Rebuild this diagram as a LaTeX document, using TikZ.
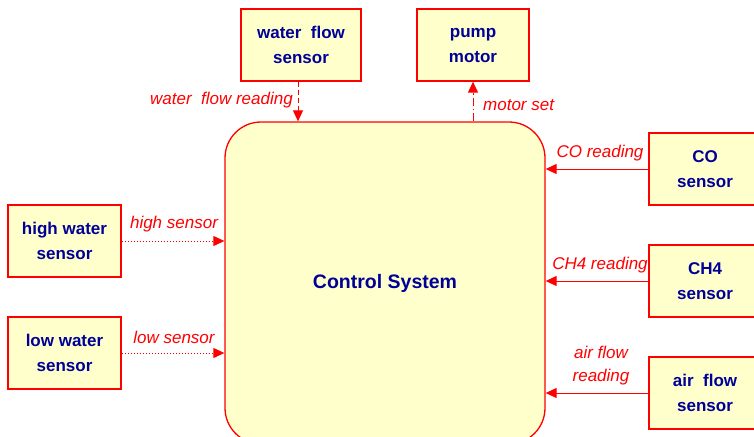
\documentclass[tikz,border=0pt]{standalone}
\usepackage{fontspec}
\setmainfont{Liberation Sans}
\usetikzlibrary{arrows.meta,positioning}
\definecolor{boxfill}{HTML}{FFFFCC}
\definecolor{boxline}{HTML}{FF0000}
\definecolor{boxtext}{HTML}{000099}
\tikzset{
  unit/.style={draw=boxline, fill=boxfill, line width=1.3pt, text=boxtext,
    font=\fontsize{17}{25}\selectfont\bfseries, align=center,
    minimum height=72pt, inner sep=0pt},
  ctrl/.style={unit, rounded corners=36pt, minimum width=320pt, minimum height=322pt,
    font=\fontsize{19.5}{22}\selectfont\bfseries},
  flow/.style={draw=boxline, line width=1pt, -{Triangle[length=11pt,width=10pt]}},
  lbl/.style={text=boxline, font=\fontsize{17}{23}\selectfont\itshape, inner sep=0pt, align=center}
}
\begin{document}
\begin{tikzpicture}[x=1pt,y=-1pt]
\clip (0,0) rectangle (754,436);
\useasboundingbox (0,0) rectangle (754,436);
\node[ctrl] (cs) at (385,283) {Control System};
\node[unit, minimum width=120pt] (wf) at (301,45) {water\ \ flow\\sensor};
\node[unit, minimum width=112pt] (pm) at (473,45) {pump\\motor};
\node[unit, minimum width=113pt] (hw) at (64.5,241) {high water\\sensor};
\node[unit, minimum width=113pt] (lw) at (64.5,353) {low water\\sensor};
\node[unit, minimum width=112pt] (co) at (705,169) {CO\\sensor};
\node[unit, minimum width=112pt] (ch) at (705,281) {CH4\\sensor};
\node[unit, minimum width=112pt] (af) at (705,393) {air\ \ flow\\sensor};
\draw[flow, dash pattern=on 5pt off 3pt] ([xshift=-3pt]wf.south) -- ([xshift=-3pt]wf.south |- cs.north);
\draw[flow, dash pattern=on 8pt off 3pt on 1.5pt off 3pt] (pm.south |- cs.north) -- (pm.south);
\draw[flow, dash pattern=on 1.5pt off 1.5pt] (hw.east) -- (hw.east -| cs.west);
\draw[flow, dash pattern=on 1.5pt off 1.5pt] (lw.east) -- (lw.east -| cs.west);
\draw[flow] (co.west) -- (co.west -| cs.east);
\draw[flow] (ch.west) -- (ch.west -| cs.east);
\draw[flow] (af.west) -- (af.west -| cs.east);
\node[lbl, anchor=east] (l1) at (293,100) {water\ \ flow reading};
\node[lbl, anchor=west] (l2) at (483,105) {motor set};
\node[lbl] (l3) at (174,224) {high sensor};
\node[lbl] (l4) at (174,337) {low sensor};
\node[lbl] (l5) at (600,153) {CO reading};
\node[lbl] (l6) at (600,265) {CH4 reading};
\node[lbl] (l7) at (601,366) {air flow\\reading};
\end{tikzpicture}
\end{document}
